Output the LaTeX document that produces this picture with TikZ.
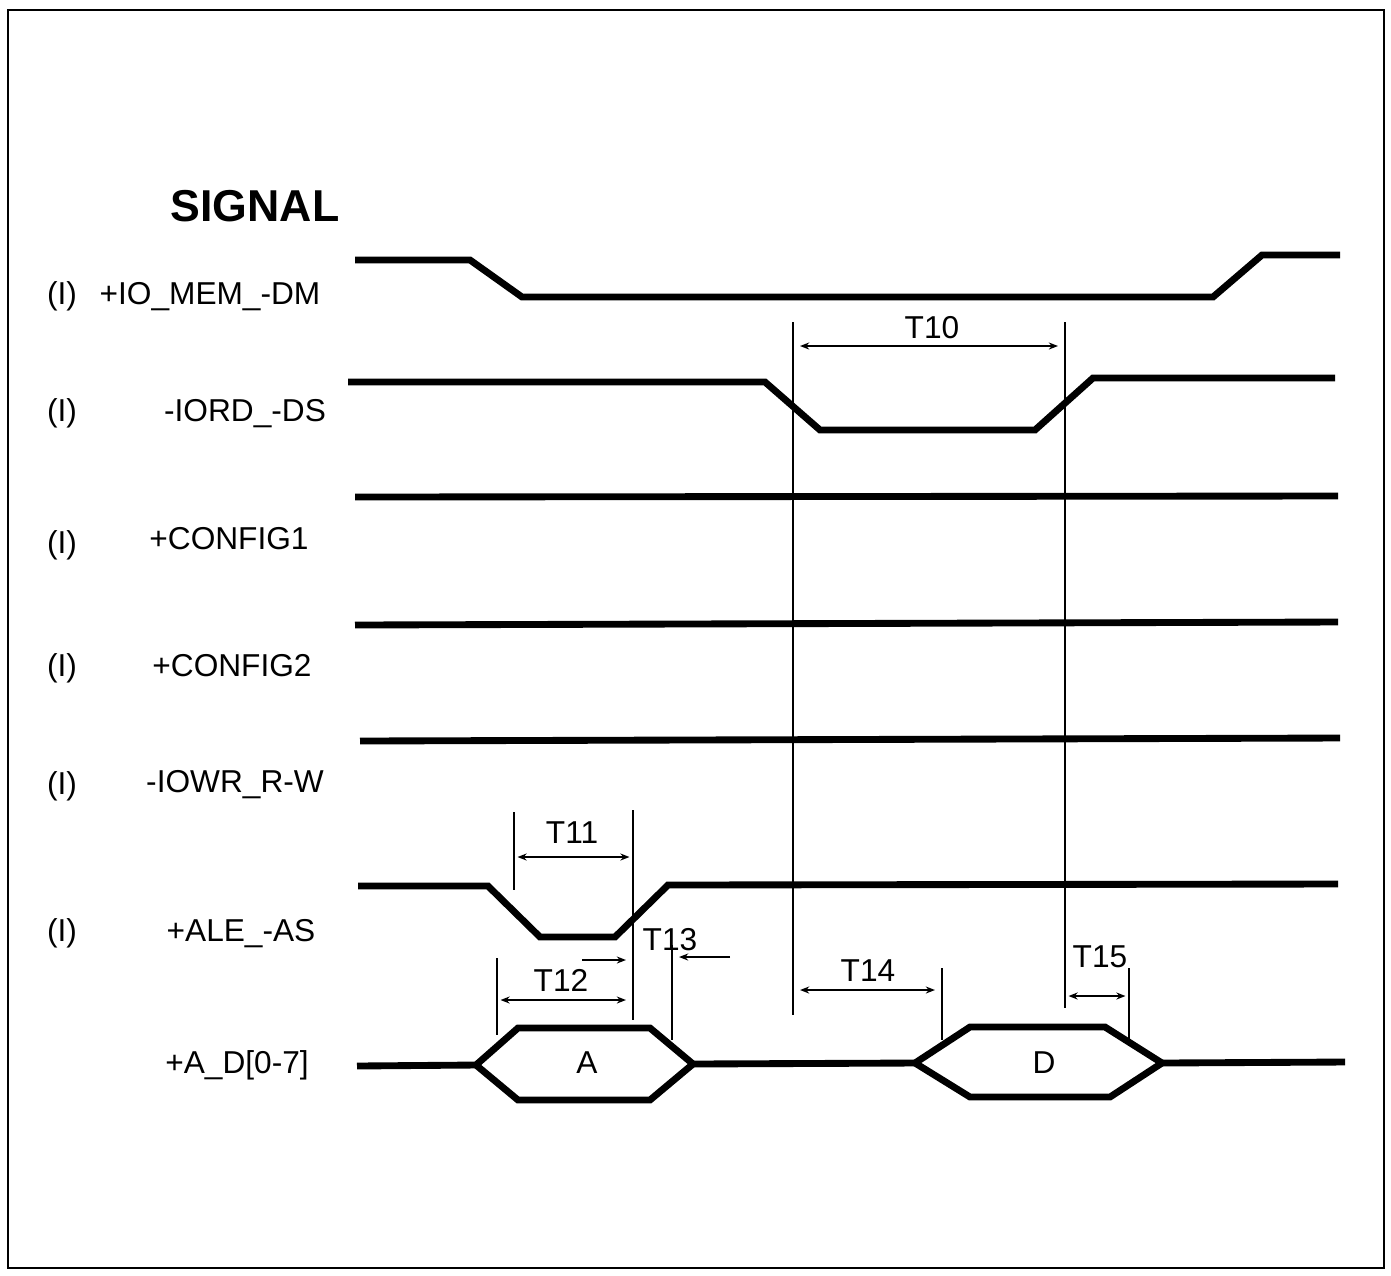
\documentclass[tikz,border=0pt]{standalone}
\usepackage{fontspec}
\setmainfont{Liberation Sans}
\usepackage{tikz}
\usetikzlibrary{arrows.meta,positioning}
\tikzset{
	sig/.style={line width=1.95pt, line join=miter},
	tick/.style={line width=0.45pt},
	span/.style={line width=0.45pt, {Stealth[length=2.6pt,width=2pt]}-{Stealth[length=2.6pt,width=2pt]}},
	rspan/.style={line width=0.45pt, -{Stealth[length=2.6pt,width=2pt]}}
}
\begin{document}
\begin{tikzpicture}[
			x=0.01cm, y=-0.01cm,
			lbl/.style = {anchor = base, inner sep = 0pt, font = \fontsize{9}{11}\selectfont},
			tlbl/.style = {inner sep = 0pt, font = \fontsize{9}{11}\selectfont},
		]
			\useasboundingbox (0,0) rectangle (1391,1275);
			\draw[line width=0.7pt] (8,10) rectangle (1384,1268);

			\node [inner sep = 0pt, font = \fontsize{12.7}{14}\selectfont\bfseries] (title) at (255,206) {SIGNAL};

			% row labels
			\foreach\nm/\x/\y/\txt in {io/210/304/+IO\_MEM\_-DM, iord/245/421/-IORD\_-DS,
					cfga/229/549/+CONFIG1, cfgb/232/676/+CONFIG2, iowr/235/792/-IOWR\_R-W,
					ale/241/941/+ALE\_-AS, ad/237/1073/+A\_D[0-7]}{
				\node [lbl] (\nm) at (\x, \y) {\txt};
			}
			\foreach\nm/\y in {io/304, iord/421, cfga/553, cfgb/676, iowr/794, ale/941}{
				\node [lbl] (in\nm) at (62, \y) {(I)};
			}

			% waveforms
			\draw [sig] (355,260) -- (470,260) -- (522,297) -- (1213,297) -- (1262,255) -- (1340,255);
			\draw [sig] (348,382) -- (765,382) -- (820,430) -- (1035,430) -- (1093,378) -- (1335,378);
			\draw [sig] (355,497) -- (1338,496);
			\draw [sig] (355,625) -- (1338,622);
			\draw [sig] (360,741) -- (1340,738);
			\draw [sig] (358,886) -- (488,886) -- (540,937) -- (615,937) -- (668,885) -- (1338,884);

			% bus
			\draw [sig] (357,1066) -- (476,1065);
			\draw [sig] (476,1065) -- (518,1028) -- (650,1028) -- (693,1064) -- (650,1100) -- (518,1100) -- cycle;
			\draw [sig] (693,1064) -- (915,1063);
			\draw [sig] (915,1063) -- (970,1027) -- (1105,1027) -- (1162,1063) -- (1110,1097) -- (970,1097) -- cycle;
			\draw [sig] (1162,1063) -- (1345,1062);
			\node [tlbl] (valA) at (587,1063) {A};
			\node [tlbl] (valD) at (1044,1063) {D};

			% timing marks
			\coordinate (k10a) at (793,322);  \coordinate (k10b) at (793,1015);
			\coordinate (k10c) at (1065,322); \coordinate (k10d) at (1065,1008);
			\coordinate (k11a) at (514,812);  \coordinate (k11b) at (514,890);
			\coordinate (k11c) at (633,810);  \coordinate (k11d) at (633,1020);
			\coordinate (k12a) at (497,958);  \coordinate (k12b) at (497,1035);
			\coordinate (k13a) at (672,945);  \coordinate (k13b) at (672,1040);
			\coordinate (k14a) at (942,968);  \coordinate (k14b) at (942,1040);
			\coordinate (k15a) at (1129,968); \coordinate (k15b) at (1129,1040);
			\foreach\a/\b in {k10a/k10b, k10c/k10d, k11a/k11b, k11c/k11d,
					k12a/k12b, k13a/k13b, k14a/k14b, k15a/k15b}{
				\draw [tick] (\a) -- (\b);
			}

			\draw [span, shorten <=2pt, shorten >=2pt] (k10a |- 0,346) -- (k10c |- 0,346);
			\node [tlbl] (t10) at (932,328) {T10};
			\draw [span, shorten <=1pt, shorten >=1pt] (k11a |- 0,857) -- (k11c |- 0,857);
			\node [tlbl] (t11) at (572,833) {T11};
			\draw [span, shorten <=1pt, shorten >=2pt] (k12a |- 0,1000) -- (k11c |- 0,1000);
			\node [tlbl] (t12) at (561,980) {T12};
			\coordinate (k13c) at (582,960);
			\coordinate (k13d) at (730,957);
			\draw [rspan, shorten >=2pt] (k13c) -- (k11c |- k13c);
			\draw [rspan, shorten >=2pt] (k13d) -- (k13a |- k13d);
			\node [tlbl] (t13) at (670,940) {T13};
			\draw [span, shorten <=2pt, shorten >=2pt] (k10b |- 0,990) -- (k14a |- 0,990);
			\node [tlbl] (t14) at (868,971) {T14};
			\draw [span, shorten <=1pt, shorten >=1pt] (k10c |- 0,996) -- (k15a |- 0,996);
			\node [tlbl] (t15) at (1100,957) {T15};
		\end{tikzpicture}
\end{document}
